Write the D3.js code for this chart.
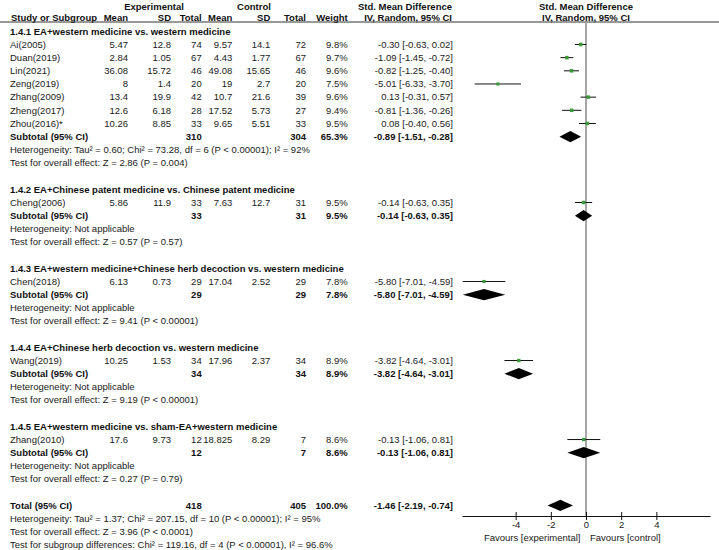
<!DOCTYPE html>
<html>
<head>
<meta charset="utf-8">
<script src="https://cdn.jsdelivr.net/npm/d3@7"></script>
<style>
  body { margin: 0; background: #fff; }
  svg text { font-family: "Liberation Sans", Arial, sans-serif; font-size: 9.5px; fill: #1a1a1a; }
  svg text.b { font-weight: bold; fill: #111; }
</style>
</head>
<body>
<svg id="chart" width="719" height="550"></svg>
<script>
// study level data
const studyNames = ['Ai(2005)', 'Duan(2019)', 'Lin(2021)', 'Zeng(2019)', 'Zhang(2009)', 'Zheng(2017)', 'Zhou(2016)*',
  'Cheng(2006)', 'Chen(2018)', 'Wang(2019)', 'Zhang(2010)'];
const studyGroup = [0, 0, 0, 0, 0, 0, 0, 1, 2, 3, 4];
const expMean = [5.47, 2.84, 36.08, 8, 13.4, 12.6, 10.26, 5.86, 6.13, 10.25, 17.6];
const expSD = [12.8, 1.05, 15.72, 1.4, 19.9, 6.18, 8.85, 11.9, 0.73, 1.53, 9.73];
const expN = [74, 67, 46, 20, 42, 28, 33, 33, 29, 34, 12];
const ctlMean = [9.57, 4.43, 49.08, 19, 10.7, 17.52, 9.65, 7.63, 17.04, 17.96, 18.825];
const ctlSD = [14.1, 1.77, 15.65, 2.7, 21.6, 5.73, 5.51, 12.7, 2.52, 2.37, 8.29];
const ctlN = [72, 67, 46, 20, 39, 27, 33, 31, 29, 34, 7];
const studyWeight = [9.8, 9.7, 9.6, 7.5, 9.6, 9.4, 9.5, 9.5, 7.8, 8.9, 8.6];
const studySmd = [-0.30, -1.09, -0.82, -5.01, 0.13, -0.81, 0.08, -0.14, -5.80, -3.82, -0.13];
const studyLo = [-0.63, -1.45, -1.25, -6.33, -0.31, -1.36, -0.40, -0.63, -7.01, -4.64, -1.06];
const studyHi = [0.02, -0.72, -0.40, -3.70, 0.57, -0.26, 0.56, 0.35, -4.59, -3.01, 0.81];

// subgroup level data
const groupTitles = [
  '1.4.1 EA+western medicine vs. western medicine',
  '1.4.2 EA+Chinese patent medicine vs. Chinese patent medicine',
  '1.4.3 EA+western medicine+Chinese herb decoction vs. western medicine',
  '1.4.4 EA+Chinese herb decoction vs. western medicine',
  '1.4.5 EA+western medicine vs. sham-EA+western medicine'
];
const groupExpN = [310, 33, 29, 34, 12];
const groupCtlN = [304, 31, 29, 34, 7];
const groupWeight = [65.3, 9.5, 7.8, 8.9, 8.6];
const groupSmd = [-0.89, -0.14, -5.80, -3.82, -0.13];
const groupLo = [-1.51, -0.63, -7.01, -4.64, -1.06];
const groupHi = [-0.28, 0.35, -4.59, -3.01, 0.81];
const groupHet = [
  'Heterogeneity: Tau\u00b2 = 0.60; Chi\u00b2 = 73.28, df = 6 (P < 0.00001); I\u00b2 = 92%',
  'Heterogeneity: Not applicable',
  'Heterogeneity: Not applicable',
  'Heterogeneity: Not applicable',
  'Heterogeneity: Not applicable'
];
const groupTest = [
  'Test for overall effect: Z = 2.86 (P = 0.004)',
  'Test for overall effect: Z = 0.57 (P = 0.57)',
  'Test for overall effect: Z = 9.41 (P < 0.00001)',
  'Test for overall effect: Z = 9.19 (P < 0.00001)',
  'Test for overall effect: Z = 0.27 (P = 0.79)'
];

// overall
const totalExpN = 418;
const totalCtlN = 405;
const totalWeight = 100.0;
const totalSmd = [-1.46, -2.19, -0.74];
const footerLines = [
  'Heterogeneity: Tau\u00b2 = 1.37; Chi\u00b2 = 207.15, df = 10 (P < 0.00001); I\u00b2 = 95%',
  'Test for overall effect: Z = 3.96 (P < 0.0001)',
  'Test for subgroup differences: Chi\u00b2 = 119.16, df = 4 (P < 0.00001), I\u00b2 = 96.6%'
];

const axisTicks = [-4, -2, 0, 2, 4];
const favourLeft = 'Favours [experimental]';
const favourRight = 'Favours [control]';

const svg = d3.select('#chart');

// column anchors (right aligned numbers)
const col = { name: 10, em: 128, esd: 171, en: 201.7, cm: 232.3, csd: 270.3, cn: 306, w: 347.7, eff: 453 };

const x = d3.scaleLinear().domain([-7.05, 7.05]).range([462, 710]);
const y = d3.scaleLinear().domain([0, 39]).range([31.3, 544.9]);
const sq = d3.scaleSqrt().domain([0, 10]).range([0, 3.6]);

function fmtCI(m, lo, hi) {
  return m.toFixed(2) + ' [' + lo.toFixed(2) + ', ' + hi.toFixed(2) + ']';
}

// build the row list
let rows = [];
let r = 0;
for (let g = 0; g < groupTitles.length; g++) {
  rows.push({ row: r++, kind: 'title', text: groupTitles[g] });
  for (let i = 0; i < studyNames.length; i++) {
    if (studyGroup[i] !== g) continue;
    rows.push({ row: r++, kind: 'study', i: i });
  }
  rows.push({ row: r++, kind: 'sub', g: g });
  rows.push({ row: r++, kind: 'note', text: groupHet[g] });
  rows.push({ row: r++, kind: 'note', text: groupTest[g] });
  r++; // blank line
}
rows.push({ row: r++, kind: 'total' });
footerLines.forEach(function(t) {
  rows.push({ row: r++, kind: 'note', text: t });
});

function addText(sel, tx, ty, txt, anchor, bold) {
  sel.append('text')
    .attr('x', tx)
    .attr('y', ty)
    .attr('dy', '0.35em')
    .attr('text-anchor', anchor || 'start')
    .attr('class', bold ? 'b' : null)
    .text(txt);
}

// header
const head = svg.append('g').attr('class', 'header');
addText(head, 154, 7, 'Experimental', 'middle', true);
addText(head, 254, 7, 'Control', 'middle', true);
addText(head, 452, 7, 'Std. Mean Difference', 'end', true);
addText(head, 586, 7, 'Std. Mean Difference', 'middle', true);
addText(head, 11, 17.5, 'Study or Subgroup', 'start', true);
addText(head, col.em, 17.5, 'Mean', 'end', true);
addText(head, col.esd, 17.5, 'SD', 'end', true);
addText(head, col.en, 17.5, 'Total', 'end', true);
addText(head, col.cm, 17.5, 'Mean', 'end', true);
addText(head, col.csd, 17.5, 'SD', 'end', true);
addText(head, col.cn, 17.5, 'Total', 'end', true);
addText(head, col.w, 17.5, 'Weight', 'end', true);
addText(head, 452, 17.5, 'IV, Random, 95% CI', 'end', true);
addText(head, 586, 17.5, 'IV, Random, 95% CI', 'middle', true);

head.append('line')
  .attr('x1', 0).attr('x2', 719)
  .attr('y1', 22).attr('y2', 22)
  .style('stroke', '#333')
  .style('stroke-width', '1px');

// zero line
svg.append('line')
  .attr('x1', x(0)).attr('x2', x(0))
  .attr('y1', 22).attr('y2', 516)
  .style('stroke', '#a6a6a6')
  .style('stroke-width', '2px');

// table text
const body = svg.append('g').attr('class', 'table');
rows.forEach(function(d) {
  let ty = y(d.row);
  if (d.kind === 'title') {
    addText(body, col.name, ty, d.text, 'start', true);
  } else if (d.kind === 'note') {
    addText(body, col.name, ty, d.text, 'start', false);
  } else if (d.kind === 'study') {
    let i = d.i;
    addText(body, col.name, ty, studyNames[i]);
    addText(body, col.em, ty, String(expMean[i]), 'end');
    addText(body, col.esd, ty, String(expSD[i]), 'end');
    addText(body, col.en, ty, String(expN[i]), 'end');
    addText(body, col.cm, ty, String(ctlMean[i]), 'end');
    addText(body, col.csd, ty, String(ctlSD[i]), 'end');
    addText(body, col.cn, ty, String(ctlN[i]), 'end');
    addText(body, col.w, ty, studyWeight[i].toFixed(1) + '%', 'end');
    addText(body, col.eff, ty, fmtCI(studySmd[i], studyLo[i], studyHi[i]), 'end');
  } else if (d.kind === 'sub') {
    let g = d.g;
    addText(body, col.name, ty, 'Subtotal (95% CI)', 'start', true);
    addText(body, col.en, ty, String(groupExpN[g]), 'end', true);
    addText(body, col.cn, ty, String(groupCtlN[g]), 'end', true);
    addText(body, col.w, ty, groupWeight[g].toFixed(1) + '%', 'end', true);
    addText(body, col.eff, ty, fmtCI(groupSmd[g], groupLo[g], groupHi[g]), 'end', true);
  } else if (d.kind === 'total') {
    addText(body, col.name, ty, 'Total (95% CI)', 'start', true);
    addText(body, col.en, ty, String(totalExpN), 'end', true);
    addText(body, col.cn, ty, String(totalCtlN), 'end', true);
    addText(body, col.w, ty, totalWeight.toFixed(1) + '%', 'end', true);
    addText(body, col.eff, ty, fmtCI(totalSmd[0], totalSmd[1], totalSmd[2]), 'end', true);
  }
});

// plot marks
const plot = svg.append('g').attr('class', 'plot');
const studyRows = rows.filter(function(d) { return d.kind === 'study'; });

plot.selectAll('.ci')
  .data(studyRows)
  .enter()
  .append('line')
  .attr('class', 'ci')
  .attr('x1', function(d) { return x(studyLo[d.i]); })
  .attr('x2', function(d) { return x(studyHi[d.i]); })
  .attr('y1', function(d) { return y(d.row); })
  .attr('y2', function(d) { return y(d.row); })
  .style('stroke', '#111')
  .style('stroke-width', '1px');

plot.selectAll('.box')
  .data(studyRows)
  .enter()
  .append('rect')
  .attr('class', 'box')
  .attr('x', function(d) { return x(studySmd[d.i]) - sq(studyWeight[d.i]) / 2; })
  .attr('y', function(d) { return y(d.row) - sq(studyWeight[d.i]) / 2; })
  .attr('width', function(d) { return sq(studyWeight[d.i]); })
  .attr('height', function(d) { return sq(studyWeight[d.i]); })
  .style('fill', '#3a9a3a');

// diamonds for subtotals and total
let diamonds = rows.filter(function(d) { return d.kind === 'sub' || d.kind === 'total'; })
  .map(function(d) {
    if (d.kind === 'sub') {
      return { row: d.row, m: groupSmd[d.g], lo: groupLo[d.g], hi: groupHi[d.g] };
    }
    return { row: d.row, m: totalSmd[0], lo: totalSmd[1], hi: totalSmd[2] };
  });

plot.selectAll('.diamond')
  .data(diamonds)
  .enter()
  .append('path')
  .attr('class', 'diamond')
  .attr('d', function(d) {
    let cy = y(d.row);
    return 'M' + x(d.lo) + ',' + cy +
      'L' + x(d.m) + ',' + (cy - 5.6) +
      'L' + x(d.hi) + ',' + cy +
      'L' + x(d.m) + ',' + (cy + 5.6) + 'Z';
  })
  .style('fill', '#000');

// axis
const axisY = 516;
const axis = svg.append('g')
  .attr('class', 'axis')
  .attr('transform', 'translate(0,' + axisY + ')')
  .call(d3.axisBottom(x).tickValues(axisTicks).tickSizeOuter(0).tickSize(0).tickFormat(d3.format('d')));

axis.select('.domain').style('stroke', '#111').style('stroke-width', '1px');
axis.selectAll('.tick line')
  .attr('y1', -4)
  .attr('y2', 4)
  .style('stroke', '#111');
axis.selectAll('.tick text')
  .attr('y', 5)
  .attr('dy', '0.71em')
  .style('font-family', '"Liberation Sans", Arial, sans-serif')
  .style('font-size', '9.5px')
  .style('fill', '#1a1a1a')
  .text(function(d) { return d < 0 ? '-' + Math.abs(d) : d; });

addText(svg, x(0) - 5.5, 538, favourLeft, 'end');
addText(svg, x(0) + 4, 538, favourRight, 'start');
</script>
</body>
</html>
